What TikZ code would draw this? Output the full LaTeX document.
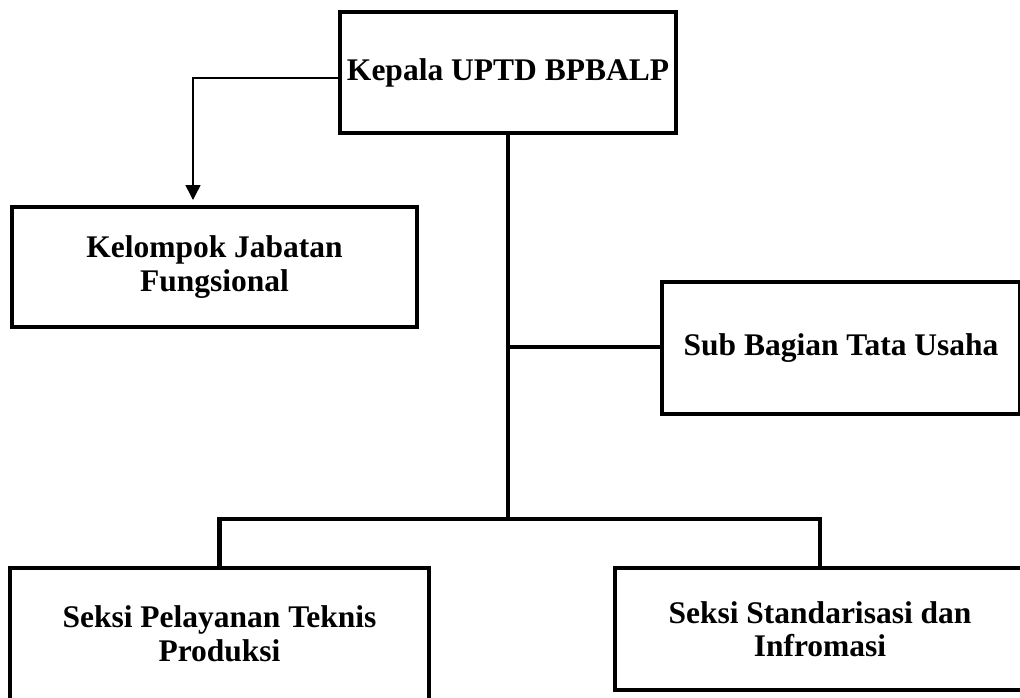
\documentclass[tikz,border=0pt]{standalone}
\usepackage{fontspec}
\setmainfont{Liberation Serif}
\usetikzlibrary{arrows.meta}
\tikzset{
  unitbox/.style={draw=black, line width=4.5pt, rectangle, outer sep=0pt, inner sep=0pt,
    align=center, font=\fontsize{31.5}{33.5}\selectfont\bfseries},
  thickline/.style={draw=black, line width=4.5pt},
  thinarrow/.style={draw=black, line width=1.5pt, -{Triangle[width=15pt,length=15pt]}}
}
\begin{document}
\begin{tikzpicture}[x=1pt,y=-1pt]
\clip (0,0) rectangle (1020,698);
\fill[white] (0,0) rectangle (1020,698);
\node[unitbox, minimum width=336pt, minimum height=121pt] (top) at (508,72.5) {Kepala UPTD BPBALP};
\node[unitbox, minimum width=405pt, minimum height=120pt] (kel) at (214.5,267) {Kelompok Jabatan\\Fungsional};
\node[unitbox, minimum width=358pt, minimum height=132pt] (sub) at (841,348) {Sub Bagian Tata Usaha};
\node[unitbox, minimum width=419pt, minimum height=132pt] (pel) at (219.5,634) {Seksi Pelayanan Teknis\\Produksi};
\node[unitbox, minimum width=410pt, minimum height=122pt] (std) at (820,629) {Seksi Standarisasi dan\\Infromasi};
\coordinate (j1) at (508,347);
\coordinate (j2) at (508,519);
\coordinate (kelin) at (193,200);
\draw[thinarrow] ([yshift=-5.5pt]top.west) -| (kelin);
\draw[thickline] (top.south) -- (j2);
\draw[thickline] (j1) -- (sub.west |- j1);
\draw[thickline] (pel.north) |- (j2) -| (std.north);
\end{tikzpicture}
\end{document}
